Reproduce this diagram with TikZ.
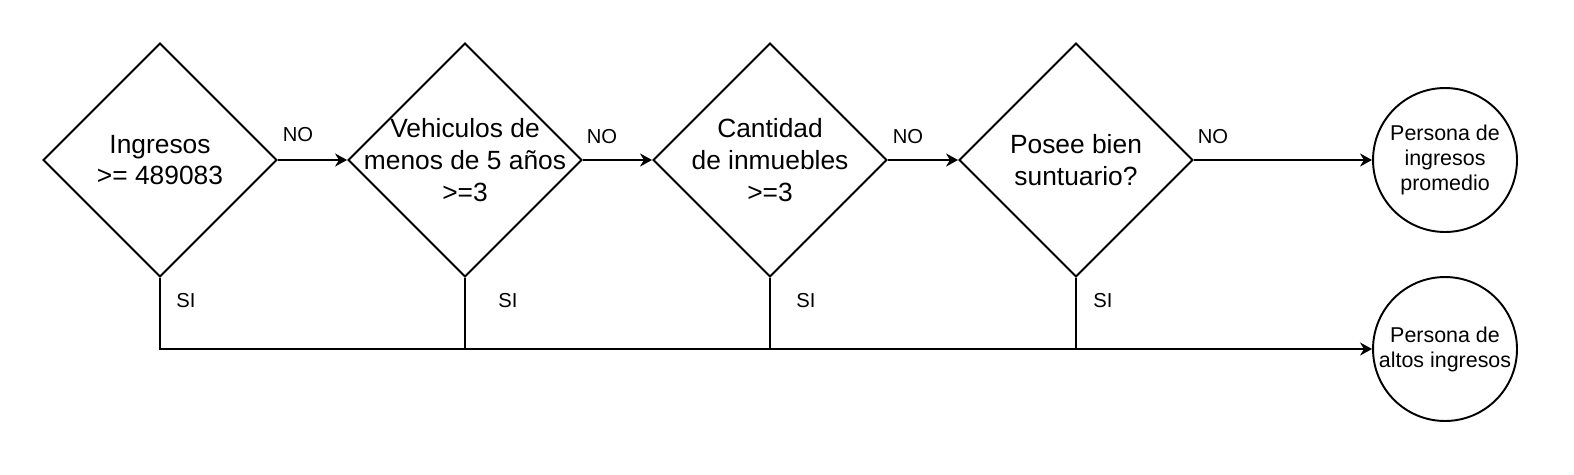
\documentclass[tikz,border=0pt]{standalone}
\usepackage{fontspec}
\setmainfont{Liberation Sans}
\usetikzlibrary{shapes.geometric, arrows.meta, positioning}

\begin{document}
\begin{tikzpicture}[
    x=0.02cm, y=-0.02cm,
    line width=1.1pt,
    dec/.style={draw, diamond, minimum width=4.68cm, minimum height=4.68cm, inner sep=0pt},
    dtxt/.style={align=center, font=\fontsize{15}{18}\selectfont},
    fin/.style={draw, circle, minimum size=2.88cm, inner sep=0pt, align=center, font=\fontsize{12.2}{14.2}\selectfont},
    lbl/.style={font=\fontsize{11.5}{13}\selectfont},
    fl/.style={-{Stealth[length=0.24cm, width=0.26cm]}}
]
\useasboundingbox (0,0) rectangle (1574,474);

% ===== DECISIONI =====
\node[dec] (D1) at (160,160) {};
\node[dec] (D2) at (465,160) {};
\node[dec] (D3) at (770,160) {};
\node[dec] (D4) at (1076,160) {};
\node[dtxt] (T1) at (D1) {Ingresos\\>= 489083};
\node[dtxt] (T2) at (D2) {Vehiculos de\\menos de 5 años\\>=3};
\node[dtxt] (T3) at (D3) {Cantidad\\de inmuebles\\>=3};
\node[dtxt] (T4) at (D4) {Posee bien\\suntuario?};

% ===== RESULTADOS =====
\node[fin] (PROM) at (1445,160) {Persona de\\ingresos\\promedio};
\node[fin] (ALTO) at (1445,349) {Persona de\\altos ingresos};

% ramo NO
\draw[fl] (D1.east) -- (D2.west);
\draw[fl] (D2.east) -- (D3.west);
\draw[fl] (D3.east) -- (D4.west);
\draw[fl] (D4.east) -- (PROM.west);
\node[lbl] (NO1) at ([xshift=0.4cm, yshift=0.5cm]D1.east) {NO};
\node[lbl] (NO2) at ([xshift=0.38cm, yshift=0.46cm]D2.east) {NO};
\node[lbl] (NO3) at ([xshift=0.4cm, yshift=0.46cm]D3.east) {NO};
\node[lbl] (NO4) at ([xshift=0.38cm, yshift=0.46cm]D4.east) {NO};

% ramo SI
\draw[fl] (D1.south) |- (ALTO.west);
\draw (D2.south) -- (D2.south |- ALTO.west);
\draw (D3.south) -- (D3.south |- ALTO.west);
\draw (D4.south) -- (D4.south |- ALTO.west);
\node[lbl] (SI1) at ([xshift=0.52cm, yshift=-0.46cm]D1.south) {SI};
\node[lbl] (SI2) at ([xshift=0.86cm, yshift=-0.46cm]D2.south) {SI};
\node[lbl] (SI3) at ([xshift=0.72cm, yshift=-0.46cm]D3.south) {SI};
\node[lbl] (SI4) at ([xshift=0.54cm, yshift=-0.46cm]D4.south) {SI};

\end{tikzpicture}
\end{document}
